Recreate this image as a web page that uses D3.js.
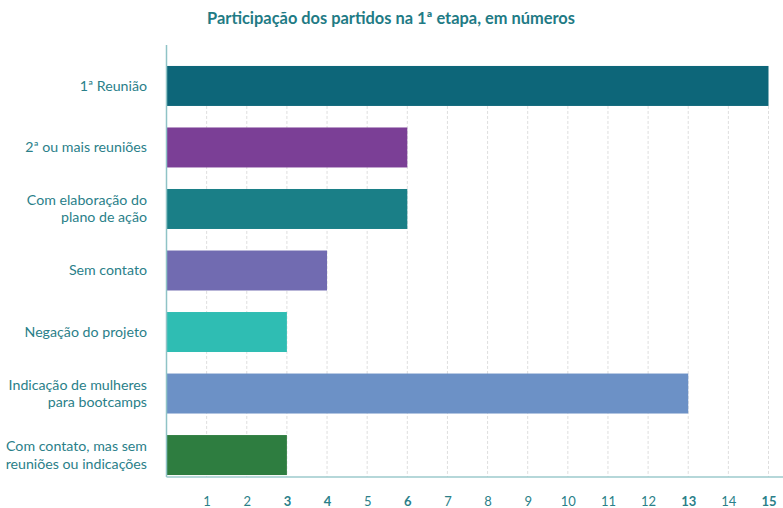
<!DOCTYPE html>
<html>
<head>
<meta charset="utf-8">
<script src="https://cdnjs.cloudflare.com/ajax/libs/d3/7.8.5/d3.min.js"></script>
<style>
  body { margin: 0; background: #fff; }
  text { font-family: Lato, "Noto Sans", sans-serif; }
</style>
</head>
<body>
<div id="chart"></div>
<script>
// data
var categories = [
  ["1ª Reunião"],
  ["2ª ou mais reuniões"],
  ["Com elaboração do", "plano de ação"],
  ["Sem contato"],
  ["Negação do projeto"],
  ["Indicação de mulheres", "para bootcamps"],
  ["Com contato, mas sem", "reuniões ou indicações"]
]
var values = [15, 6, 6, 4, 3, 13, 3]
var colors = ["#0d6679", "#7b3f96", "#1a7f87", "#716bb1", "#2fbdb3", "#6c91c6", "#2e7d40"]
var tickValues = [1, 2, 3, 4, 5, 6, 7, 8, 9, 10, 11, 12, 13, 14, 15]

var width = 783,
  height = 508

var x = d3.scaleLinear()
  .domain([0, 15])
  .range([166.5, 768.5])

var y = d3.scaleBand()
  .domain(d3.range(values.length))
  .range([55.2, 485.8])
  .paddingInner(0.35)
  .paddingOuter(0.175)

var svg = d3.select("#chart").append("svg")
  .attr("width", width)
  .attr("height", height)

svg.append("text")
  .attr("x", 391)
  .attr("y", 24)
  .attr("text-anchor", "middle")
  .attr("fill", "#1f7b85")
  .attr("font-size", 16.4)
  .attr("font-weight", "bold")
  .text("Participação dos partidos na 1ª etapa, em números")

// dashed grid, only below the first bar like the original
var gridTop = y(0) + y.bandwidth()
svg.append("g")
  .selectAll("line")
  .data(tickValues)
  .join("line")
    .attr("x1", d => x(d))
    .attr("x2", d => x(d))
    .attr("y1", gridTop)
    .attr("y2", 477)
    .attr("stroke", "#dedede")
    .attr("stroke-width", 1)
    .attr("stroke-dasharray", "3,2")

svg.append("g")
  .selectAll("rect")
  .data(values)
  .join("rect")
    .attr("x", x(0))
    .attr("y", (d, i) => y(i))
    .attr("width", d => x(d) - x(0))
    .attr("height", y.bandwidth())
    .attr("fill", (d, i) => colors[i])

// axes lines
svg.append("line")
  .attr("x1", x(0)).attr("x2", x(0))
  .attr("y1", 45).attr("y2", 477)
  .attr("stroke", "#8fc3c6").attr("stroke-width", 1.5)
svg.append("line")
  .attr("x1", x(0)).attr("x2", 783)
  .attr("y1", 477).attr("y2", 477)
  .attr("stroke", "#9ccacd").attr("stroke-width", 1.5)

// bottom tick labels, data values in bold
var xAxis = d3.axisBottom(x)
  .tickValues(tickValues)
  .tickSize(0)
  .tickPadding(0)
svg.append("g")
  .attr("transform", "translate(0,477)")
  .call(xAxis)
  .call(g => g.select(".domain").remove())
  .call(g => g.selectAll("text")
    .attr("y", 29)
    .attr("dy", 0)
    .attr("fill", "#2a7f89")
    .attr("font-size", 13)
    .attr("font-family", "Lato, sans-serif")
    .attr("font-weight", d => values.includes(d) ? "bold" : "normal"))

// category labels
var labels = svg.append("g")
  .attr("text-anchor", "end")
  .attr("fill", "#2a8089")
  .attr("font-size", 14.2)
  .selectAll("text")
  .data(categories)
  .join("text")
    .attr("x", 147)
    .attr("y", (d, i) => y(i) + y.bandwidth() / 2)

labels.selectAll("tspan")
  .data(d => d.map((t, j) => ({t: t, j: j, n: d.length})))
  .join("tspan")
    .attr("x", 147)
    .attr("dy", d => d.j == 0 ? (d.n == 1 ? "0.35em" : "-0.25em") : "1.2em")
    .text(d => d.t)
</script>
</body>
</html>
